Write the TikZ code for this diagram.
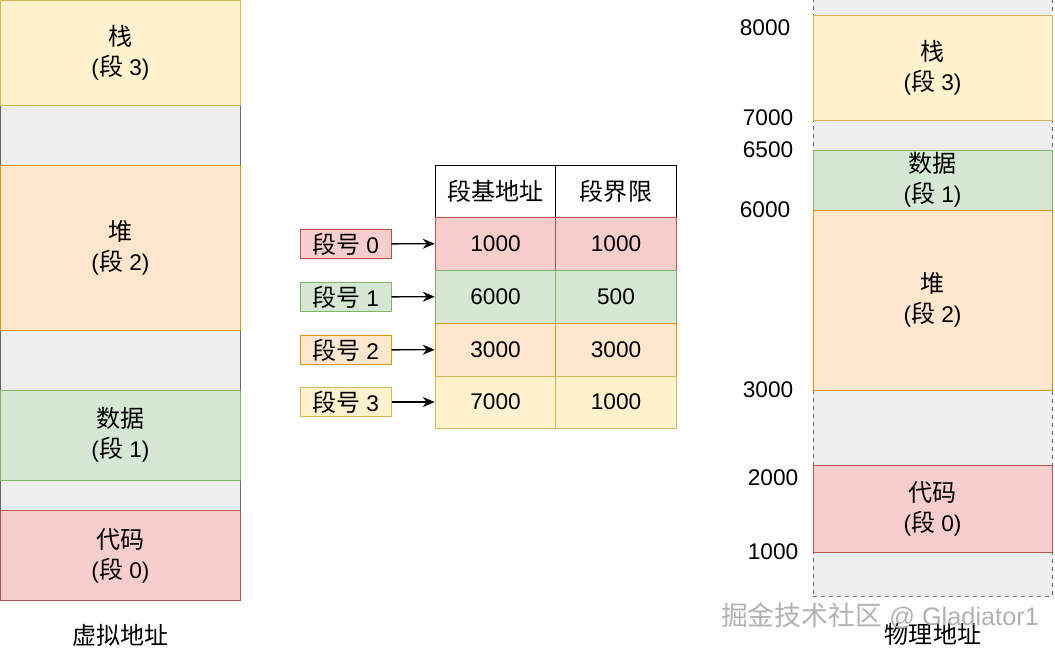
\documentclass[tikz,border=0pt]{standalone}
\usepackage{fontspec}
\setmainfont{Liberation Sans}
\newfontfamily\cjk[Scale=1.06]{Noto Sans CJK SC}
\usepackage{tikz}
\usetikzlibrary{arrows.meta}
\usepackage{xcolor}
\definecolor{segY}{HTML}{FFF2CC}
\definecolor{segYline}{HTML}{D6B656}
\definecolor{segO}{HTML}{FFE6CC}
\definecolor{segOline}{HTML}{D79B00}
\definecolor{segG}{HTML}{D5E8D4}
\definecolor{segGline}{HTML}{82B366}
\definecolor{segR}{HTML}{F8CECC}
\definecolor{segRline}{HTML}{B85450}
\definecolor{freeFill}{HTML}{EEEEEE}
\definecolor{freeLine}{HTML}{666666}
\newcommand{\zh}[1]{{\cjk #1}}
\newcommand{\pxu}{0.75pt}

\begin{document}
\begin{tikzpicture}[x=0.75pt, y=-0.75pt, >={Stealth[length=9pt, width=7.5pt]},
    font=\fontsize{17}{22.5}\selectfont,
    box/.style={draw, line width=0.75pt, inner sep=0pt, align=center},
    vseg/.style={box, minimum width=240*\pxu},
    pseg/.style={box, minimum width=239*\pxu},
    cell/.style={box, minimum width=120.5*\pxu},
    segno/.style={box, minimum width=91*\pxu, minimum height=29*\pxu},
    yel/.style={fill=segY, draw=segYline},
    ora/.style={fill=segO, draw=segOline},
    grn/.style={fill=segG, draw=segGline},
    red/.style={fill=segR, draw=segRline},
    free/.style={fill=freeFill, draw=freeLine}]
  \useasboundingbox (0,0) rectangle (1055,651);

  % virtual address space
  \node[vseg, free, minimum height=60*\pxu] (vg1) at (120.5, 135) {};
  \node[vseg, free, minimum height=60*\pxu] (vg2) at (120.5, 360) {};
  \node[vseg, free, minimum height=30*\pxu] (vg3) at (120.5, 495) {};
  \node[vseg, yel, minimum height=105*\pxu] (v3) at (120.5, 53) {\zh{栈}\\(\zh{段} 3)};
  \node[vseg, ora, minimum height=165*\pxu] (v2) at (120.5, 247.5) {\zh{堆}\\(\zh{段} 2)};
  \node[vseg, grn, minimum height=90*\pxu] (v1) at (120.5, 435) {\zh{数据}\\(\zh{段} 1)};
  \node[vseg, red, minimum height=90*\pxu] (v0) at (120.5, 555.5) {\zh{代码}\\(\zh{段} 0)};
  \node (vlab) at (120.5, 635) {\zh{虚拟地址}};

  % segment table
  \node[cell, fill=white, minimum height=52*\pxu] (hb) at (495.5, 191) {\zh{段基地址}};
  \node[cell, fill=white, minimum height=52*\pxu] (hl) at (616, 191) {\zh{段界限}};
  \node[cell, red, minimum height=53*\pxu] (r0b) at (495.5, 243.5) {1000};
  \node[cell, red, minimum height=53*\pxu] (r0l) at (616, 243.5) {1000};
  \node[cell, grn, minimum height=53*\pxu] (r1b) at (495.5, 296.5) {6000};
  \node[cell, grn, minimum height=53*\pxu] (r1l) at (616, 296.5) {500};
  \node[cell, ora, minimum height=53*\pxu] (r2b) at (495.5, 349.5) {3000};
  \node[cell, ora, minimum height=53*\pxu] (r2l) at (616, 349.5) {3000};
  \node[cell, yel, minimum height=52*\pxu] (r3b) at (495.5, 402) {7000};
  \node[cell, yel, minimum height=52*\pxu] (r3l) at (616, 402) {1000};

  \node[segno, red] (s0) at (345.5, 244) {\zh{段号} 0};
  \node[segno, grn] (s1) at (345.5, 297) {\zh{段号} 1};
  \node[segno, ora] (s2) at (345.5, 350) {\zh{段号} 2};
  \node[segno, yel] (s3) at (345.5, 402) {\zh{段号} 3};
  \foreach \i in {0,1,2,3}
    \draw[->, line width=1pt] (s\i) -- (r\i b);

  % physical memory
  \node[pseg, free, dashed, minimum height=600*\pxu] (pmem) at (932.5, 296) {};
  \node[pseg, yel, minimum height=105*\pxu] (p3) at (932.5, 67.5) {\zh{栈}\\(\zh{段} 3)};
  \node[pseg, grn, minimum height=60*\pxu] (p1) at (932.5, 180) {\zh{数据}\\(\zh{段} 1)};
  \node[pseg, ora, minimum height=180*\pxu] (p2) at (932.5, 300) {\zh{堆}\\(\zh{段} 2)};
  \node[pseg, red, minimum height=87*\pxu] (p0) at (932.5, 508.5) {\zh{代码}\\(\zh{段} 0)};

  \node[anchor=east] (a8000) at (795, 28) {8000};
  \node[anchor=east] (a7000) at (798, 118) {7000};
  \node[anchor=east] (a6500) at (798, 150) {6500};
  \node[anchor=east] (a6000) at (795, 210) {6000};
  \node[anchor=east] (a3000) at (798, 390) {3000};
  \node[anchor=east] (a2000) at (803, 478) {2000};
  \node[anchor=east] (a1000) at (803, 552) {1000};
  \node (plab) at (933, 634) {\zh{物理地址}};

  \node[gray!60, font=\fontsize{19}{22}\selectfont] (wmark) at (880, 616) {\zh{掘金技术社区} @ Gladiator1};
\end{tikzpicture}
\end{document}
